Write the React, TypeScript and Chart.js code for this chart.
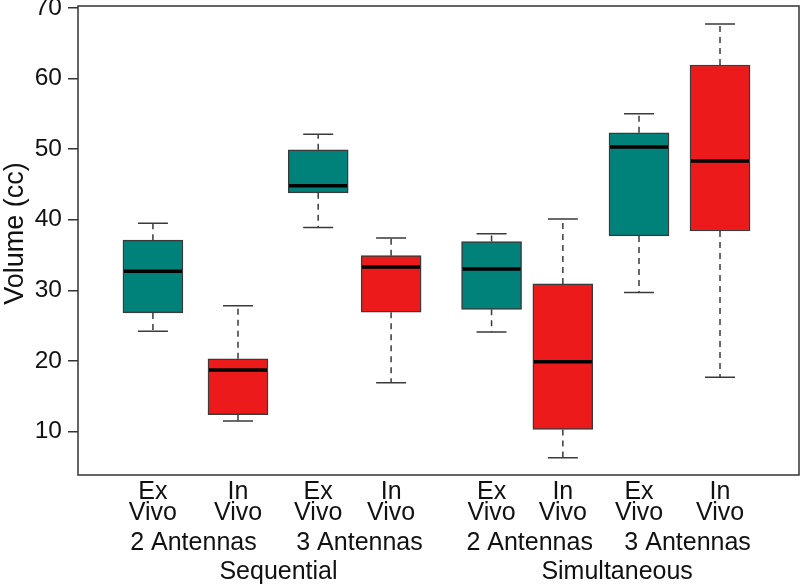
import React, { useEffect, useRef } from "react";
import { Chart, registerables } from "chart.js";

Chart.register(...registerables);

// ---- data ----
const categoryLabels = [
  ["Ex", "Vivo"], ["In", "Vivo"], ["Ex", "Vivo"], ["In", "Vivo"],
  ["Ex", "Vivo"], ["In", "Vivo"], ["Ex", "Vivo"], ["In", "Vivo"],
];
const xPositions = [1, 2.05, 3.04, 3.94, 5.18, 6.06, 7, 8];
const antennaLabels = ["2 Antennas", "3 Antennas", "2 Antennas", "3 Antennas"];
const antennaAt = [1.5, 3.55, 5.65, 7.6];
const modeLabels = ["Sequential", "Simultaneous"];
const modeAt = [2.55, 6.73];

const lowerWhisker = [24.2, 11.5, 38.9, 16.9, 24.1, 6.3, 29.7, 17.7];
const q1 = [26.8, 12.4, 43.8, 26.9, 27.3, 10.3, 37.7, 38.4];
const median = [32.7, 18.7, 44.8, 33.3, 33.0, 19.9, 50.3, 48.3];
const q3 = [37.1, 20.3, 49.9, 34.9, 36.9, 30.9, 52.3, 61.9];
const upperWhisker = [39.5, 27.8, 52.1, 37.4, 38.0, 40.1, 55.0, 67.7];
const groupKind = ["ex", "in", "ex", "in", "ex", "in", "ex", "in"];

const yTicks = [10, 20, 30, 40, 50, 60, 70];
const yTitle = "Volume (cc)";

// ---- styles ----
const TEAL = "#00827B";
const RED = "#EC1A1A";
const FONT = "'Liberation Sans', Arial, sans-serif";
const BOX_W = 60;
const CAP_W = 30;

const boxPlotPlugin = {
  id: "boxExtras",
  beforeDatasetsDraw(chart: any) {
    const { ctx, scales } = chart;
    const xs = scales.x, ys = scales.y;
    ctx.save();
    ctx.strokeStyle = "#3a3a3a";
    ctx.lineWidth = 1.5;
    xPositions.forEach((xv, i) => {
      const x = xs.getPixelForValue(xv);
      ctx.setLineDash([6, 5]);
      ctx.beginPath();
      ctx.moveTo(x, ys.getPixelForValue(q3[i]));
      ctx.lineTo(x, ys.getPixelForValue(upperWhisker[i]));
      ctx.moveTo(x, ys.getPixelForValue(q1[i]));
      ctx.lineTo(x, ys.getPixelForValue(lowerWhisker[i]));
      ctx.stroke();
      ctx.setLineDash([]);
      ctx.beginPath();
      const yu = ys.getPixelForValue(upperWhisker[i]);
      const yl = ys.getPixelForValue(lowerWhisker[i]);
      ctx.moveTo(x - CAP_W / 2, yu);
      ctx.lineTo(x + CAP_W / 2, yu);
      ctx.moveTo(x - CAP_W / 2, yl);
      ctx.lineTo(x + CAP_W / 2, yl);
      ctx.stroke();
    });
    ctx.restore();
  },
  afterDatasetsDraw(chart: any) {
    const { ctx, scales } = chart;
    const xs = scales.x, ys = scales.y;
    ctx.save();
    ctx.strokeStyle = "#000";
    ctx.lineWidth = 3.5;
    xPositions.forEach((xv, i) => {
      const x = xs.getPixelForValue(xv);
      const y = ys.getPixelForValue(median[i]);
      ctx.beginPath();
      ctx.moveTo(x - BOX_W / 2 + 1, y);
      ctx.lineTo(x + BOX_W / 2 - 1, y);
      ctx.stroke();
    });
    ctx.restore();
  },
  afterDraw(chart: any) {
    const { ctx, chartArea, scales } = chart;
    const xs = scales.x;
    ctx.save();
    ctx.strokeStyle = "#333";
    ctx.lineWidth = 1.5;
    ctx.strokeRect(chartArea.left, chartArea.top, chartArea.right - chartArea.left, chartArea.bottom - chartArea.top);
    ctx.fillStyle = "#111";
    ctx.font = `25px ${FONT}`;
    ctx.textAlign = "center";
    ctx.textBaseline = "alphabetic";
    const b = chartArea.bottom;
    categoryLabels.forEach((lines, i) => {
      const x = xs.getPixelForValue(xPositions[i]);
      ctx.fillText(lines[0], x, b + 23.5);
      ctx.fillText(lines[1], x, b + 45);
    });
    antennaLabels.forEach((t, i) => {
      ctx.fillText(t, xs.getPixelForValue(antennaAt[i]), b + 74.5);
    });
    modeLabels.forEach((t, i) => {
      ctx.fillText(t, xs.getPixelForValue(modeAt[i]), b + 104);
    });
    ctx.font = `27px ${FONT}`;
    ctx.translate(23, (chartArea.top + chartArea.bottom) / 2 - 7);
    ctx.rotate(-Math.PI / 2);
    ctx.fillText(yTitle, 0, 0);
    ctx.restore();
  },
};

export default function App() {
  const ref = useRef<HTMLCanvasElement | null>(null);
  useEffect(() => {
    document.body.style.margin = "0";
    if (!ref.current) return;
    const chart = new Chart(ref.current, {
      type: "bar",
      data: {
        datasets: [
          {
            data: xPositions.map((x, i) => ({ x, y: [q1[i], q3[i]] })) as any,
            backgroundColor: groupKind.map((k) => (k === "ex" ? TEAL : RED)),
            borderColor: "#3a3a3a",
            borderWidth: 1.5,
            borderSkipped: false,
            barThickness: BOX_W,
          },
        ],
      },
      options: {
        animation: false,
        responsive: false,
        devicePixelRatio: 1,
        layout: { padding: { top: 6, right: 1, left: 0, bottom: 110 } },
        plugins: { legend: { display: false }, tooltip: { enabled: false }, title: { display: false } },
        scales: {
          x: { type: "linear", min: 0.52, max: 8.53, display: false },
          y: {
            type: "linear",
            min: 3.85,
            max: 70.25,
            afterBuildTicks: (s: any) => {
              s.ticks = yTicks.map((v) => ({ value: v }));
            },
            afterFit: (s: any) => {
              s.width = 78;
              s.paddingTop = 0;
              s.paddingBottom = 0;
            },
            grid: {
              drawOnChartArea: false,
              drawTicks: true,
              tickLength: 10,
              color: "#333",
              lineWidth: 1.5,
            },
            border: { display: false },
            ticks: {
              font: { family: FONT, size: 24.5 },
              color: "#111",
              padding: 6,
            },
          },
        },
      },
      plugins: [boxPlotPlugin],
    });
    return () => chart.destroy();
  }, []);
  return (
    <div style={{ width: 800, height: 585 }}>
      <canvas ref={ref} width={800} height={585} />
    </div>
  );
}
